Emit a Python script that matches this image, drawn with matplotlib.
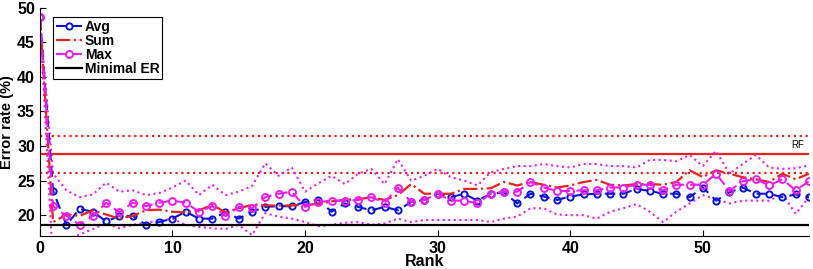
import numpy as np
import matplotlib
matplotlib.use("Agg")
import matplotlib.pyplot as plt

plt.rcParams.update({
    "font.family": "Liberation Sans", "font.weight": "bold",
    "axes.labelweight": "bold", "font.size": 11,
})

rank = np.arange(0, 59)

avg = [48.7, 23.5, 18.6, 20.9, 20.5, 19.1, 19.9, 19.9, 18.6, 19.0,
       19.5, 20.5, 19.5, 19.5, 20.4, 19.5, 20.5, 21.2, 21.3, 21.3,
       21.9, 22.2, 20.5, 21.7, 21.2, 20.7, 21.2, 20.7, 21.9, 22.2,
       23.1, 22.6, 23.1, 22.1, 23.1, 23.3, 21.7, 23.1, 22.7, 22.2,
       22.7, 23.0, 23.1, 23.1, 23.1, 23.8, 23.5, 23.1, 23.1, 22.6,
       24.0, 22.1, 23.3, 24.0, 23.1, 23.1, 22.6, 23.0, 22.6]

sum_ = [48.7, 19.0, 20.1, 19.9, 20.7, 20.1, 19.5, 19.9, 20.7, 20.8,
        20.5, 20.4, 20.7, 21.5, 20.4, 21.0, 21.5, 21.4, 21.4, 21.4,
        21.5, 21.6, 22.0, 22.2, 22.3, 22.6, 22.2, 22.9, 24.5, 23.1,
        23.1, 23.1, 23.8, 23.8, 23.9, 24.8, 24.3, 24.8, 24.4, 24.0,
        24.3, 24.8, 25.1, 24.4, 24.3, 24.5, 24.5, 24.4, 24.8, 26.5,
        25.5, 26.5, 26.0, 25.5, 25.2, 24.8, 26.0, 25.2, 26.0]

max_ = [48.7, 21.3, 19.9, 18.6, 19.9, 21.8, 20.4, 21.8, 21.3, 21.8,
        22.1, 21.8, 20.5, 21.3, 19.9, 21.2, 21.0, 22.6, 23.1, 23.4,
        21.2, 21.9, 22.1, 22.1, 22.2, 22.6, 21.8, 24.0, 21.9, 22.2,
        23.1, 22.1, 22.1, 21.7, 23.1, 23.4, 23.4, 24.8, 24.0, 23.5,
        23.5, 23.6, 23.6, 24.0, 24.0, 24.4, 24.4, 23.6, 24.4, 24.4,
        24.4, 26.0, 23.5, 24.9, 25.2, 24.3, 25.2, 23.6, 24.9]

max_hi = [48.7, 26.0, 23.6, 22.6, 23.0, 24.7, 23.4, 23.6, 22.9, 23.2,
          24.0, 25.0, 22.9, 24.4, 22.9, 23.4, 24.2, 27.5, 25.7, 26.9,
          23.4, 24.6, 25.7, 24.5, 26.0, 26.7, 24.5, 28.1, 25.0, 25.7,
          26.7, 25.5, 25.0, 24.3, 26.2, 26.7, 27.1, 27.1, 27.4, 27.1,
          26.9, 27.4, 27.4, 27.1, 27.1, 26.9, 28.0, 28.0, 27.8, 28.7,
          27.1, 29.3, 26.0, 27.4, 28.7, 26.9, 26.7, 26.8, 27.2]

max_lo = [48.7, 12.5, 16.5, 17.2, 18.0, 18.8, 18.1, 18.6, 18.9, 19.2,
          19.5, 18.6, 18.3, 18.1, 18.0, 18.6, 17.1, 20.3, 19.8, 19.5,
          19.0, 18.4, 18.6, 18.9, 19.0, 18.6, 18.8, 19.5, 19.0, 19.3,
          19.3, 19.3, 19.3, 19.3, 19.0, 19.5, 19.8, 21.0, 21.0, 20.1,
          20.0, 20.0, 19.5, 20.5, 21.0, 21.6, 20.5, 19.0, 20.5, 21.7,
          22.9, 22.3, 21.7, 22.1, 22.1, 22.1, 23.1, 20.2, 22.6]

rf_mean, rf_lo, rf_hi = 28.8, 26.1, 31.5
minimal_er = 18.6

BLUE, RED, MAG = "#0a14d8", "#e8231c", "#ee1cee"

fig = plt.figure(figsize=(8.13, 2.69), dpi=100)
ax = fig.add_axes([0.049, 0.123, 0.946, 0.848])

ax.axhline(rf_hi, color=RED, ls=":", lw=1.6)
ax.axhline(rf_mean, color=RED, ls="-", lw=1.6)
ax.axhline(rf_lo, color=RED, ls=":", lw=1.6)
ax.text(57.6, 30.1, "RF", fontsize=7, fontweight="normal", ha="right", va="center")

ax.plot(rank, max_hi, color=MAG, ls=":", lw=1.5)
ax.plot(rank, max_lo, color=MAG, ls=":", lw=1.5)
ax.plot(rank, avg, color=BLUE, ls="--", lw=1.5, marker="o", ms=4.5,
        mfc="none", mew=1.4, dashes=(5, 3), label="Avg")
ax.plot(rank, sum_, color=RED, ls="-.", lw=1.6, label="Sum")
ax.plot(rank, max_, color=MAG, ls="--", lw=1.5, marker="o", ms=5,
        mfc="none", mew=1.4, dashes=(5, 3), label="Max")
ax.axhline(minimal_er, color="black", lw=1.6, label="Minimal ER")

ax.set_xlim(0, 58)
ax.set_ylim(17, 50)
ax.set_xticks([0, 10, 20, 30, 40, 50])
ax.set_yticks([20, 25, 30, 35, 40, 45, 50])
ax.tick_params(direction="in", length=4, labelsize=11.5)
ax.spines["top"].set_visible(False)
ax.spines["right"].set_visible(False)
ax.set_xlabel("Rank", fontsize=11.5, labelpad=-1)
ax.set_ylabel("Error rate (%)", fontsize=10.5, labelpad=2)

leg = ax.legend(loc="upper left", bbox_to_anchor=(0.008, 0.99), fontsize=10,
                handlelength=1.9, handletextpad=0.2, borderpad=0.2,
                labelspacing=0.0, fancybox=False, framealpha=1)
leg.get_frame().set_edgecolor("black")
leg.get_frame().set_linewidth(0.8)

fig.savefig("out.png", dpi=100)
